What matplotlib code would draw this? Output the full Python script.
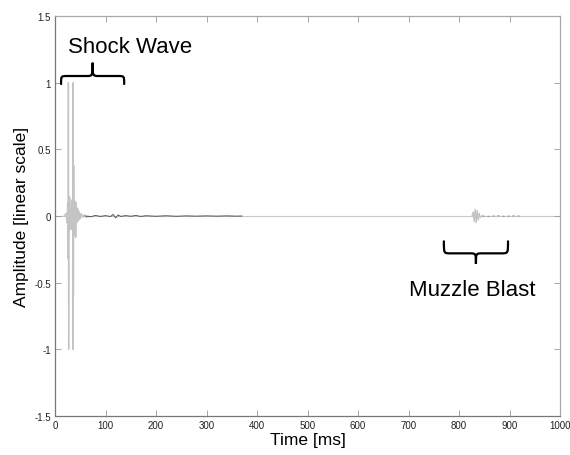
import matplotlib
matplotlib.use("Agg")
import matplotlib.pyplot as plt
from matplotlib.path import Path
from matplotlib.patches import PathPatch

plt.rcParams["font.family"] = ["Liberation Sans", "DejaVu Sans"]

# full-span baseline of the recording
base_t = [0, 1000]
base_a = [0, 0]

# shock wave: two clipped spikes plus ringing (ms, normalised amplitude)
shock_t = [18, 22, 24, 25, 26, 26.5, 27, 27.5, 28, 29, 30, 31, 32, 33, 34, 35,
           35.5, 36, 36.5, 37, 37.5, 38, 39, 40, 41, 42, 43, 44, 45, 46, 47,
           48, 50, 52, 55, 58, 62, 66]
shock_a = [0, 0.02, -0.05, 0.10, -0.32, 1.0, -1.0, 0.15, -0.12, 0.14, -0.08,
           0.05, -0.10, 0.12, -0.06, 0.08, -1.0, 1.0, -0.60, 0.38, -0.15, 0.10,
           -0.12, 0.11, -0.16, 0.10, -0.05, 0.06, -0.04, 0.05, -0.03, 0.03,
           -0.02, 0.02, -0.01, 0.01, -0.01, 0.0]

# low-level tail after the shock
tail_t = [60, 70, 80, 90, 100, 110, 115, 120, 125, 130, 140, 150, 160, 170,
          180, 200, 220, 240, 260, 280, 300, 320, 340, 360, 370]
tail_a = [0.0, -0.006, 0.004, -0.003, 0.003, -0.004, 0.012, -0.014, 0.008,
          -0.003, 0.003, -0.002, 0.004, -0.003, 0.002, -0.002, 0.002, -0.002,
          0.001, -0.001, 0.001, -0.001, 0.001, -0.001, 0.0]

# muzzle blast bump
blast_t = [826, 828, 830, 832, 834, 836, 838, 840, 842, 846]
blast_a = [0.0, 0.03, -0.04, 0.05, -0.05, 0.04, -0.03, 0.02, -0.01, 0.0]
blast_tail_t = [846, 860, 875, 890, 905, 920]
blast_tail_a = [0.0, -0.002, 0.002, -0.002, 0.001, 0.0]

xticks = [0, 100, 200, 300, 400, 500, 600, 700, 800, 900, 1000]
yticks = [-1.5, -1, -0.5, 0, 0.5, 1, 1.5]
yticklabels = ["-1.5", "-1", "-0.5", "0", "0.5", "1", "1.5"]


def brace(ax, x0, x1, y_end, y_mid, y_tip):
    """Curly brace between x0 and x1; ends at y_end, tip at y_tip."""
    xm = (x0 + x1) / 2
    w = (x1 - x0) * 0.1
    verts = [(x0, y_end),
             (x0, y_mid), (x0, y_mid), (x0 + w, y_mid),
             (xm - w, y_mid),
             (xm, y_mid), (xm, y_mid), (xm, y_tip),
             (xm, y_mid), (xm, y_mid), (xm + w, y_mid),
             (x1 - w, y_mid),
             (x1, y_mid), (x1, y_mid), (x1, y_end)]
    codes = [Path.MOVETO,
             Path.CURVE4, Path.CURVE4, Path.CURVE4,
             Path.LINETO,
             Path.CURVE4, Path.CURVE4, Path.CURVE4,
             Path.CURVE4, Path.CURVE4, Path.CURVE4,
             Path.LINETO,
             Path.CURVE4, Path.CURVE4, Path.CURVE4]
    ax.add_patch(PathPatch(Path(verts, codes), fc="none", ec="black", lw=1.6,
                           zorder=5, capstyle="round"))


fig = plt.figure(figsize=(5.7, 4.56), dpi=100)
ax = fig.add_axes([0.0965, 0.0855, 0.886, 0.8772])

ax.plot(base_t, base_a, color="#c8c8c8", lw=0.8, zorder=1)
ax.plot(shock_t, shock_a, color="#c4c4c4", lw=1.0, zorder=2)
ax.plot(tail_t, tail_a, color="#555555", lw=0.7, zorder=3)
ax.plot(blast_t, blast_a, color="#c4c4c4", lw=1.0, zorder=2)
ax.plot(blast_tail_t, blast_tail_a, color="#888888", lw=0.6, ls=(0, (3, 3)), zorder=3)

brace(ax, 12, 137, 0.99, 1.05, 1.15)
brace(ax, 770, 897, -0.19, -0.28, -0.36)
ax.text(148, 1.27, "Shock Wave", fontsize=16, ha="center", va="center")
ax.text(827, -0.55, "Muzzle Blast", fontsize=16, ha="center", va="center")

ax.set_xlim(0, 1000)
ax.set_ylim(-1.5, 1.5)
ax.set_xticks(xticks)
ax.set_yticks(yticks)
ax.set_yticklabels(yticklabels)
ax.tick_params(direction="in", length=4, width=0.6, colors="#999999",
               labelcolor="#222222", labelsize=7, top=True, right=True, pad=3)
for s in ("left", "bottom"):
    ax.spines[s].set_color("#777777")
for s in ("top", "right"):
    ax.spines[s].set_color("#aaaaaa")
for s in ax.spines.values():
    s.set_linewidth(0.9)

ax.set_xlabel("Time [ms]", fontsize=12.5, labelpad=1)
ax.set_ylabel("Amplitude [linear scale]", fontsize=12.5, labelpad=4)

fig.savefig("out.png", dpi=100)
